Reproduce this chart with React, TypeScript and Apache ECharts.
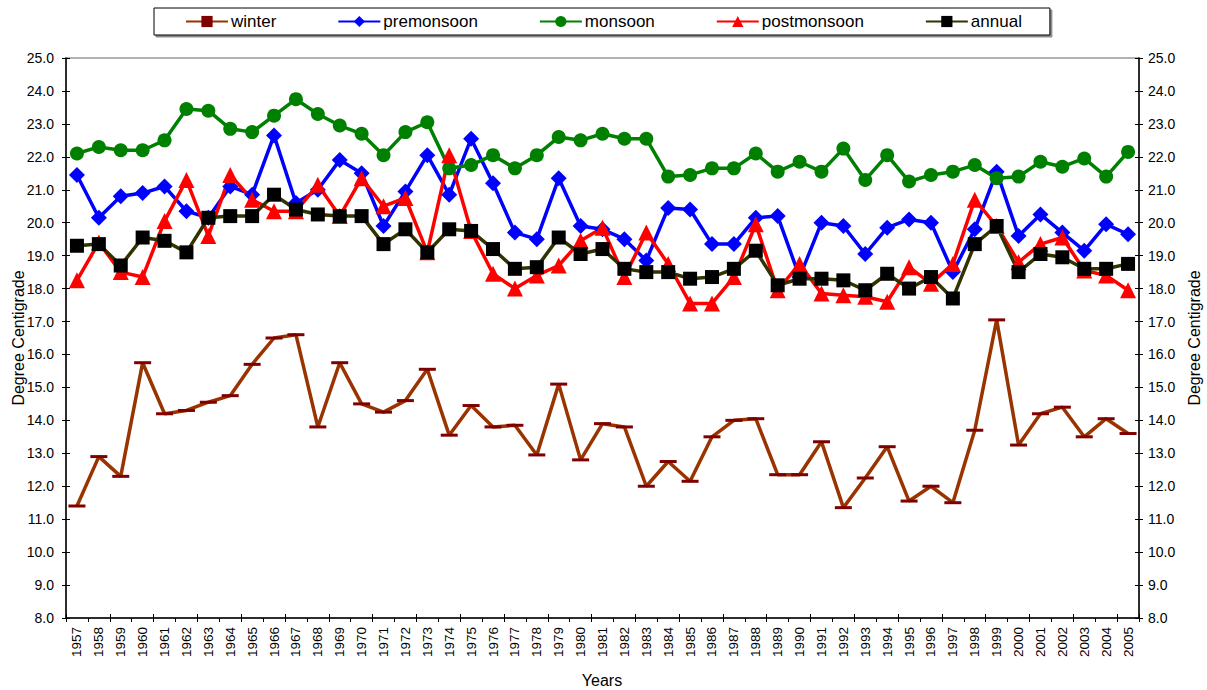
import React, { useEffect, useRef } from "react";
import * as echarts from "echarts";

const years = [
  "1957","1958","1959","1960","1961","1962","1963","1964","1965","1966","1967","1968","1969","1970",
  "1971","1972","1973","1974","1975","1976","1977","1978","1979","1980","1981","1982","1983","1984",
  "1985","1986","1987","1988","1989","1990","1991","1992","1993","1994","1995","1996","1997","1998",
  "1999","2000","2001","2002","2003","2004","2005",
];

const winter = [
  11.4, 12.9, 12.3, 15.75, 14.2, 14.3, 14.55, 14.75, 15.7, 16.5, 16.6, 13.8, 15.75, 14.5,
  14.25, 14.6, 15.55, 13.55, 14.45, 13.8, 13.85, 12.95, 15.1, 12.8, 13.9, 13.8, 12.0, 12.75,
  12.15, 13.5, 14.0, 14.05, 12.35, 12.35, 13.35, 11.35, 12.25, 13.2, 11.55, 12.0, 11.5, 13.7,
  17.05, 13.25, 14.2, 14.4, 13.5, 14.05, 13.6,
];

const premonsoon = [
  21.45, 20.15, 20.8, 20.9, 21.1, 20.35, 20.15, 21.1, 20.85, 22.65, 20.6, 21.0, 21.9, 21.5,
  19.9, 20.95, 22.05, 20.85, 22.55, 21.2, 19.7, 19.5, 21.35, 19.9, 19.8, 19.5, 18.85, 20.45,
  20.4, 19.35, 19.35, 20.15, 20.2, 18.35, 20.0, 19.9, 19.05, 19.85, 20.1, 20.0, 18.5, 19.8,
  21.55, 19.6, 20.25, 19.7, 19.15, 19.95, 19.65,
];

const monsoon = [
  22.1, 22.3, 22.2, 22.2, 22.5, 23.45, 23.4, 22.85, 22.75, 23.25, 23.75, 23.3, 22.95, 22.7,
  22.05, 22.75, 23.05, 21.65, 21.75, 22.05, 21.65, 22.05, 22.6, 22.5, 22.7, 22.55, 22.55, 21.4,
  21.45, 21.65, 21.65, 22.1, 21.55, 21.85, 21.55, 22.25, 21.3, 22.05, 21.25, 21.45, 21.55, 21.75,
  21.35, 21.4, 21.85, 21.7, 21.95, 21.4, 22.15,
];

const postmonsoon = [
  18.25, 19.4, 18.5, 18.35, 20.05, 21.3, 19.6, 21.45, 20.7, 20.35, 20.35, 21.15, 20.2, 21.35,
  20.5, 20.75, 19.1, 22.05, 19.75, 18.45, 18.0, 18.4, 18.7, 19.45, 19.85, 18.35, 19.7, 18.75,
  17.55, 17.55, 18.35, 19.95, 17.95, 18.75, 17.85, 17.8, 17.75, 17.6, 18.65, 18.15, 18.75, 20.7,
  19.9, 18.8, 19.35, 19.55, 18.55, 18.4, 17.95,
];

const annual = [
  19.3, 19.35, 18.7, 19.55, 19.45, 19.1, 20.15, 20.2, 20.2, 20.85, 20.4, 20.25, 20.2, 20.2,
  19.35, 19.8, 19.1, 19.8, 19.75, 19.2, 18.6, 18.65, 19.55, 19.05, 19.2, 18.6, 18.5, 18.5,
  18.3, 18.35, 18.6, 19.15, 18.1, 18.3, 18.3, 18.25, 17.95, 18.45, 18.0, 18.35, 17.7, 19.35,
  19.9, 18.5, 19.05, 18.95, 18.6, 18.6, 18.75,
];

const yTitle = "Degree Centigrade";
const xTitle = "Years";

const FONT = "Liberation Sans, Arial, sans-serif";

export default function App() {
  const ref = useRef<HTMLDivElement>(null);
  useEffect(() => {
    if (!ref.current) return;
    const chart = echarts.init(ref.current, null, { renderer: "svg" });
    const yMain = (pos: "left" | "right") => ({
      type: "value",
      position: pos,
      min: 8,
      max: 25,
      interval: 1,
      axisLine: { show: true, lineStyle: { color: "#000", width: 1.5 } },
      axisTick: { show: true, length: 4, lineStyle: { color: "#000" } },
      axisLabel: {
        fontFamily: FONT,
        fontSize: 14,
        color: "#000",
        margin: pos === "left" ? 12 : 9,
        formatter: (v: number) => v.toFixed(1),
      },
      splitLine: { show: false },
    });
    const yInner = (pos: "left" | "right") => ({
      type: "value",
      position: pos,
      min: 8,
      max: 25,
      interval: 1,
      axisLine: { show: false },
      axisTick: { show: true, inside: true, length: 4, lineStyle: { color: "#000" } },
      axisLabel: { show: false },
      splitLine: { show: false },
    });
    const titleStyle = (text: string) => ({
      text,
      fontFamily: FONT,
      fontSize: 16,
      fill: "#000",
      align: "center",
      verticalAlign: "middle",
    });
    chart.setOption({
      animation: false,
      backgroundColor: "#fff",
      textStyle: { fontFamily: FONT },
      grid: {
        left: 66,
        right: 68,
        top: 58,
        bottom: 72,
        containLabel: false,
        outerBoundsMode: "none",
        show: true,
        borderColor: "#999",
        borderWidth: 1.5,
        backgroundColor: "transparent",
      },
      graphic: [
        { type: "text", x: 18, y: 338, rotation: Math.PI / 2, style: titleStyle(yTitle) },
        { type: "text", x: 1194, y: 338, rotation: Math.PI / 2, style: titleStyle(yTitle) },
        { type: "text", x: 602, y: 680, style: titleStyle(xTitle) },
      ],
      legend: {
        left: 154,
        top: 8,
        padding: [5, 28, 5, 31],
        itemGap: 61,
        itemWidth: 42,
        itemHeight: 14,
        borderColor: "#000",
        borderWidth: 1,
        backgroundColor: "#fff",
        shadowColor: "rgba(0,0,0,0.45)",
        shadowOffsetX: 2,
        shadowOffsetY: 2,
        shadowBlur: 0,
        textStyle: { fontFamily: FONT, fontSize: 17, color: "#000", padding: [0, 0, 0, -2] },
        data: ["winter", "premonsoon", "monsoon", "postmonsoon", "annual"],
      },
      xAxis: [
        {
          type: "category",
          data: years,
          boundaryGap: true,
          axisLine: { show: true, lineStyle: { color: "#000", width: 1.5 } },
          axisTick: { show: true, length: 4, lineStyle: { color: "#000" } },
          axisLabel: {
            rotate: 90,
            interval: 0,
            fontFamily: FONT,
            fontSize: 13.5,
            color: "#000",
            margin: 9,
          },
        },
        {
          type: "category",
          data: years,
          boundaryGap: true,
          position: "bottom",
          offset: 0,
          axisLine: { show: false },
          axisTick: { show: true, inside: true, length: 4, lineStyle: { color: "#000" } },
          axisLabel: { show: false },
        },
      ],
      yAxis: [yMain("left"), yMain("right"), yInner("left"), yInner("right")],
      series: [
        {
          name: "winter",
          type: "line",
          data: winter,
          symbol: "rect",
          symbolSize: [17, 3],
          lineStyle: { color: "#993300", width: 3.5 },
          itemStyle: { color: "#800000" },
        },
        {
          name: "premonsoon",
          type: "line",
          data: premonsoon,
          symbol: "diamond",
          symbolSize: 16,
          lineStyle: { color: "#0000FF", width: 3.5 },
          itemStyle: { color: "#0000FF" },
        },
        {
          name: "monsoon",
          type: "line",
          data: monsoon,
          symbol: "circle",
          symbolSize: 14,
          lineStyle: { color: "#008000", width: 3.5 },
          itemStyle: { color: "#008000" },
        },
        {
          name: "postmonsoon",
          type: "line",
          data: postmonsoon,
          symbol: "triangle",
          symbolSize: 16,
          lineStyle: { color: "#FF0000", width: 3.5 },
          itemStyle: { color: "#FF0000" },
        },
        {
          name: "annual",
          type: "line",
          data: annual,
          symbol: "rect",
          symbolSize: 14,
          lineStyle: { color: "#333300", width: 3.5 },
          itemStyle: { color: "#000000" },
        },
      ],
    });
    return () => chart.dispose();
  }, []);
  return (
    <div
      ref={ref}
      style={{ position: "fixed", left: 0, top: 0, width: 1207, height: 690 }}
    />
  );
}
